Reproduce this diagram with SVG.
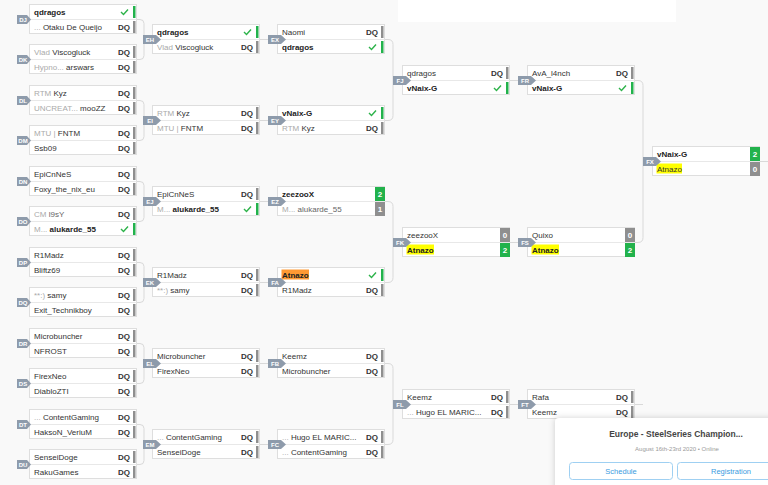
<svg xmlns="http://www.w3.org/2000/svg" width="768" height="485" viewBox="0 0 768 485">
<style>
.bx{fill:#fff;stroke:#dedede}
.dv{stroke:#e8e8e8}
.n{font-family:"Liberation Sans",Arial,sans-serif;font-size:8px;fill:#333}
.b{font-weight:bold;fill:#222}
.g{fill:#aaa}
.m{fill:#666}
.dq{font-family:"Liberation Sans",Arial,sans-serif;font-size:8px;font-weight:bold;fill:#333;text-anchor:end}
.bar{fill:#8f8f8f}
.win{fill:#22b24c}
.ck{fill:none;stroke:#2db34a;stroke-width:1.4}
.tg{fill:#8e9bab}
.tt{font-family:"Liberation Sans",Arial,sans-serif;font-size:6px;font-weight:bold;fill:#fff;text-anchor:middle}
.st{font-family:"Liberation Sans",Arial,sans-serif;font-size:8px;font-weight:bold;fill:#fff;text-anchor:middle}
.cn{fill:none;stroke:#d9d9d9;stroke-width:1}
.hy{fill:#ffff00}
.ho{fill:#ff9933}
.btn{fill:#fff;stroke:#9fd0f2;stroke-width:1}
.bt{font-family:"Liberation Sans",Arial,sans-serif;font-size:7.5px;fill:#3a9be0;text-anchor:middle}
</style>
<defs>
<filter id="sh" x="-10%" y="-20%" width="120%" height="140%"><feDropShadow dx="0" dy="0" stdDeviation="3" flood-color="#000" flood-opacity="0.18"/></filter>
<g id="box"><rect class="bx" x="0.5" y="0.5" width="107" height="29"/><line class="dv" x1="0.5" y1="15.5" x2="107.5" y2="15.5"/></g>
<path id="t1" class="tg" d="M-12,11 h10 l4,4.5 l-4,4.5 h-10 z"/>
<path id="t2" class="tg" d="M-9,11 h13 l5,4.5 l-5,4.5 h-13 z"/>
<rect id="gb1" class="bar" x="104" y="2" width="2.5" height="12"/>
<rect id="gb2" class="bar" x="104" y="17" width="2.5" height="12"/>
<rect id="wb1" class="win" x="104" y="2" width="2.5" height="12"/>
<rect id="wb2" class="win" x="104" y="17" width="2.5" height="12"/>
<path id="c1" class="ck" d="M92,8 l2.5,2.5 l4.5,-5"/>
<path id="c2" class="ck" d="M92,23 l2.5,2.5 l4.5,-5"/>
</defs>
<rect width="768" height="485" fill="#f9f9f9"/>
<rect x="398" y="0" width="278" height="22" fill="#fff"/>

<g id="connectors">
<path class="cn" d="M137,19.5 H140 Q144,19.5 144,23.5 V55.5 Q144,59.5 140,59.5 H137 M144,39.5 H152"/>
<path class="cn" d="M137,100.5 H140 Q144,100.5 144,104.5 V136.5 Q144,140.5 140,140.5 H137 M144,120.5 H152"/>
<path class="cn" d="M137,181.5 H140 Q144,181.5 144,185.5 V217.5 Q144,221.5 140,221.5 H137 M144,201.5 H152"/>
<path class="cn" d="M137,262.5 H140 Q144,262.5 144,266.5 V298.5 Q144,302.5 140,302.5 H137 M144,282.5 H152"/>
<path class="cn" d="M137,343.5 H140 Q144,343.5 144,347.5 V379.5 Q144,383.5 140,383.5 H137 M144,363.5 H152"/>
<path class="cn" d="M137,424.5 H140 Q144,424.5 144,428.5 V460.5 Q144,464.5 140,464.5 H137 M144,444.5 H152"/>
<path class="cn" d="M260,39.5 H277 M260,120.5 H277 M260,201.5 H277 M260,282.5 H277 M260,363.5 H277 M260,444.5 H277"/>
<path class="cn" d="M385,39.5 H388 Q393,39.5 393,44.5 V115.5 Q393,120.5 388,120.5 H385 M393,80.5 H402"/>
<path class="cn" d="M385,201.5 H388 Q393,201.5 393,206.5 V277.5 Q393,282.5 388,282.5 H385 M393,242.5 H402"/>
<path class="cn" d="M385,363.5 H388 Q393,363.5 393,368.5 V439.5 Q393,444.5 388,444.5 H385 M393,404.5 H402"/>
<path class="cn" d="M510,80.5 H527 M510,242.5 H527 M510,404.5 H527"/>
<path class="cn" d="M635,80.5 H638 Q643,80.5 643,85.5 V237.5 Q643,242.5 638,242.5 H635 M643,161.5 H652"/>
<path class="cn" d="M635,404.5 H643 M760,161.5 H768"/>
</g>

<!-- Column 1 -->
<g id="DJ" transform="translate(29,4)"><use href="#box"/><text class="n b" x="5" y="11">qdragos</text><use href="#c1"/><use href="#wb1"/><text class="n" x="5" y="26"><tspan class="g">...</tspan> Otaku De Queijo</text><text class="dq" x="101" y="26">DQ</text><use href="#gb2"/><use href="#t1"/><text class="tt" x="-6" y="17.7">DJ</text></g>
<g id="DK" transform="translate(29,44)"><use href="#box"/><text class="n" x="5" y="11"><tspan class="g">Vlad</tspan> Viscogluck</text><text class="dq" x="101" y="11">DQ</text><use href="#gb1"/><text class="n" x="5" y="26"><tspan class="g">Hypno...</tspan> arswars</text><text class="dq" x="101" y="26">DQ</text><use href="#gb2"/><use href="#t1"/><text class="tt" x="-6" y="17.7">DK</text></g>
<g id="DL" transform="translate(29,85)"><use href="#box"/><text class="n" x="5" y="11"><tspan class="g">RTM</tspan> Kyz</text><text class="dq" x="101" y="11">DQ</text><use href="#gb1"/><text class="n" x="5" y="26"><tspan class="g">UNCREAT...</tspan> mooZZ</text><text class="dq" x="101" y="26">DQ</text><use href="#gb2"/><use href="#t1"/><text class="tt" x="-6" y="17.7">DL</text></g>
<g id="DM" transform="translate(29,125)"><use href="#box"/><text class="n" x="5" y="11"><tspan class="g">MTU |</tspan> FNTM</text><text class="dq" x="101" y="11">DQ</text><use href="#gb1"/><text class="n" x="5" y="26">Ssb09</text><text class="dq" x="101" y="26">DQ</text><use href="#gb2"/><use href="#t1"/><text class="tt" x="-6" y="17.7">DM</text></g>
<g id="DN" transform="translate(29,166)"><use href="#box"/><text class="n" x="5" y="11">EpiCnNeS</text><text class="dq" x="101" y="11">DQ</text><use href="#gb1"/><text class="n" x="5" y="26">Foxy_the_nix_eu</text><text class="dq" x="101" y="26">DQ</text><use href="#gb2"/><use href="#t1"/><text class="tt" x="-6" y="17.7">DN</text></g>
<g id="DO" transform="translate(29,206)"><use href="#box"/><text class="n" x="5" y="11"><tspan class="g">CM</tspan> <tspan class="m">l9sY</tspan></text><text class="dq" x="101" y="11">DQ</text><use href="#gb1"/><text class="n" x="5" y="26"><tspan class="g">M...</tspan> <tspan class="b">alukarde_55</tspan></text><use href="#c2"/><use href="#wb2"/><use href="#t1"/><text class="tt" x="-6" y="17.7">DO</text></g>
<g id="DP" transform="translate(29,247)"><use href="#box"/><text class="n" x="5" y="11">R1Madz</text><text class="dq" x="101" y="11">DQ</text><use href="#gb1"/><text class="n" x="5" y="26">Bliftz69</text><text class="dq" x="101" y="26">DQ</text><use href="#gb2"/><use href="#t1"/><text class="tt" x="-6" y="17.7">DP</text></g>
<g id="DQ" transform="translate(29,287)"><use href="#box"/><text class="n" x="5" y="11"><tspan class="g">**:)</tspan> samy</text><text class="dq" x="101" y="11">DQ</text><use href="#gb1"/><text class="n" x="5" y="26">Exit_Technikboy</text><text class="dq" x="101" y="26">DQ</text><use href="#gb2"/><use href="#t1"/><text class="tt" x="-6" y="17.7">DQ</text></g>
<g id="DR" transform="translate(29,328)"><use href="#box"/><text class="n" x="5" y="11">Microbuncher</text><text class="dq" x="101" y="11">DQ</text><use href="#gb1"/><text class="n" x="5" y="26">NFROST</text><text class="dq" x="101" y="26">DQ</text><use href="#gb2"/><use href="#t1"/><text class="tt" x="-6" y="17.7">DR</text></g>
<g id="DS" transform="translate(29,368)"><use href="#box"/><text class="n" x="5" y="11">FirexNeo</text><text class="dq" x="101" y="11">DQ</text><use href="#gb1"/><text class="n" x="5" y="26">DiabloZTI</text><text class="dq" x="101" y="26">DQ</text><use href="#gb2"/><use href="#t1"/><text class="tt" x="-6" y="17.7">DS</text></g>
<g id="DT" transform="translate(29,409)"><use href="#box"/><text class="n" x="5" y="11"><tspan class="g">...</tspan> ContentGaming</text><text class="dq" x="101" y="11">DQ</text><use href="#gb1"/><text class="n" x="5" y="26">HaksoN_VeriuM</text><text class="dq" x="101" y="26">DQ</text><use href="#gb2"/><use href="#t1"/><text class="tt" x="-6" y="17.7">DT</text></g>
<g id="DU" transform="translate(29,449)"><use href="#box"/><text class="n" x="5" y="11">SenseiDoge</text><text class="dq" x="101" y="11">DQ</text><use href="#gb1"/><text class="n" x="5" y="26">RakuGames</text><text class="dq" x="101" y="26">DQ</text><use href="#gb2"/><use href="#t1"/><text class="tt" x="-6" y="17.7">DU</text></g>

<!-- Column 2 -->
<g id="EH" transform="translate(152,24)"><use href="#box"/><text class="n b" x="5" y="11">qdragos</text><use href="#c1"/><use href="#wb1"/><text class="n" x="5" y="26"><tspan class="g">Vlad</tspan> Viscogluck</text><text class="dq" x="101" y="26">DQ</text><use href="#gb2"/><use href="#t2"/><text class="tt" x="-2" y="17.7">EH</text></g>
<g id="EI" transform="translate(152,105)"><use href="#box"/><text class="n" x="5" y="11"><tspan class="g">RTM</tspan> Kyz</text><text class="dq" x="101" y="11">DQ</text><use href="#gb1"/><text class="n" x="5" y="26"><tspan class="g">MTU |</tspan> FNTM</text><text class="dq" x="101" y="26">DQ</text><use href="#gb2"/><use href="#t2"/><text class="tt" x="-2" y="17.7">EI</text></g>
<g id="EJ" transform="translate(152,186)"><use href="#box"/><text class="n" x="5" y="11">EpiCnNeS</text><text class="dq" x="101" y="11">DQ</text><use href="#gb1"/><text class="n" x="5" y="26"><tspan class="g">M...</tspan> <tspan class="b">alukarde_55</tspan></text><use href="#c2"/><use href="#wb2"/><use href="#t2"/><text class="tt" x="-2" y="17.7">EJ</text></g>
<g id="EK" transform="translate(152,267)"><use href="#box"/><text class="n" x="5" y="11">R1Madz</text><text class="dq" x="101" y="11">DQ</text><use href="#gb1"/><text class="n" x="5" y="26"><tspan class="g">**:)</tspan> samy</text><text class="dq" x="101" y="26">DQ</text><use href="#gb2"/><use href="#t2"/><text class="tt" x="-2" y="17.7">EK</text></g>
<g id="EL" transform="translate(152,348)"><use href="#box"/><text class="n" x="5" y="11">Microbuncher</text><text class="dq" x="101" y="11">DQ</text><use href="#gb1"/><text class="n" x="5" y="26">FirexNeo</text><text class="dq" x="101" y="26">DQ</text><use href="#gb2"/><use href="#t2"/><text class="tt" x="-2" y="17.7">EL</text></g>
<g id="EM" transform="translate(152,429)"><use href="#box"/><text class="n" x="5" y="11"><tspan class="g">...</tspan> ContentGaming</text><text class="dq" x="101" y="11">DQ</text><use href="#gb1"/><text class="n" x="5" y="26">SenseiDoge</text><text class="dq" x="101" y="26">DQ</text><use href="#gb2"/><use href="#t2"/><text class="tt" x="-2" y="17.7">EM</text></g>

<!-- Column 3 -->
<g id="EX" transform="translate(277,24)"><use href="#box"/><text class="n" x="5" y="11">Naomi</text><text class="dq" x="101" y="11">DQ</text><use href="#gb1"/><text class="n b" x="5" y="26">qdragos</text><use href="#c2"/><use href="#wb2"/><use href="#t2"/><text class="tt" x="-2" y="17.7">EX</text></g>
<g id="EY" transform="translate(277,105)"><use href="#box"/><text class="n b" x="5" y="11">vNaix-G</text><use href="#c1"/><use href="#wb1"/><text class="n" x="5" y="26"><tspan class="g">RTM</tspan> Kyz</text><text class="dq" x="101" y="26">DQ</text><use href="#gb2"/><use href="#t2"/><text class="tt" x="-2" y="17.7">EY</text></g>
<g id="EZ" transform="translate(277,186)"><use href="#box"/><text class="n b" x="5" y="11">zeezooX</text><rect class="win" x="98" y="1" width="10" height="14"/><text class="st" x="103" y="11">2</text><text class="n" x="5" y="26"><tspan class="g">M...</tspan> <tspan class="m">alukarde_55</tspan></text><rect class="bar" x="98" y="16" width="10" height="14"/><text class="st" x="103" y="26">1</text><use href="#t2"/><text class="tt" x="-2" y="17.7">EZ</text></g>
<g id="FA" transform="translate(277,267)"><use href="#box"/><rect class="ho" x="4.5" y="2.5" width="27.5" height="10"/><text class="n b" x="5" y="11">Atnazo</text><use href="#c1"/><use href="#wb1"/><text class="n" x="5" y="26">R1Madz</text><text class="dq" x="101" y="26">DQ</text><use href="#gb2"/><use href="#t2"/><text class="tt" x="-2" y="17.7">FA</text></g>
<g id="FB" transform="translate(277,348)"><use href="#box"/><text class="n" x="5" y="11">Keemz</text><text class="dq" x="101" y="11">DQ</text><use href="#gb1"/><text class="n" x="5" y="26">Microbuncher</text><text class="dq" x="101" y="26">DQ</text><use href="#gb2"/><use href="#t2"/><text class="tt" x="-2" y="17.7">FB</text></g>
<g id="FC" transform="translate(277,429)"><use href="#box"/><text class="n" x="5" y="11"><tspan class="g">...</tspan> Hugo EL MARIC...</text><text class="dq" x="101" y="11">DQ</text><use href="#gb1"/><text class="n" x="5" y="26"><tspan class="g">...</tspan> ContentGaming</text><text class="dq" x="101" y="26">DQ</text><use href="#gb2"/><use href="#t2"/><text class="tt" x="-2" y="17.7">FC</text></g>

<!-- Column 4 -->
<g id="FJ" transform="translate(402,65)"><use href="#box"/><text class="n" x="5" y="11">qdragos</text><text class="dq" x="101" y="11">DQ</text><use href="#gb1"/><text class="n b" x="5" y="26">vNaix-G</text><use href="#c2"/><use href="#wb2"/><use href="#t2"/><text class="tt" x="-2" y="17.7">FJ</text></g>
<g id="FK" transform="translate(402,227)"><use href="#box"/><text class="n" x="5" y="11">zeezooX</text><rect class="bar" x="98" y="1" width="10" height="14"/><text class="st" x="103" y="11">0</text><rect class="hy" x="4.5" y="17.5" width="27.5" height="10"/><text class="n b" x="5" y="26">Atnazo</text><rect class="win" x="98" y="16" width="10" height="14"/><text class="st" x="103" y="26">2</text><use href="#t2"/><text class="tt" x="-2" y="17.7">FK</text></g>
<g id="FL" transform="translate(402,389)"><use href="#box"/><text class="n" x="5" y="11">Keemz</text><text class="dq" x="101" y="11">DQ</text><use href="#gb1"/><text class="n" x="5" y="26"><tspan class="g">...</tspan> Hugo EL MARIC...</text><text class="dq" x="101" y="26">DQ</text><use href="#gb2"/><use href="#t2"/><text class="tt" x="-2" y="17.7">FL</text></g>

<!-- Column 5 -->
<g id="FR" transform="translate(527,65)"><use href="#box"/><text class="n" x="5" y="11">AvA_l4nch</text><text class="dq" x="101" y="11">DQ</text><use href="#gb1"/><text class="n b" x="5" y="26">vNaix-G</text><use href="#c2"/><use href="#wb2"/><use href="#t2"/><text class="tt" x="-2" y="17.7">FR</text></g>
<g id="FS" transform="translate(527,227)"><use href="#box"/><text class="n" x="5" y="11">Quixo</text><rect class="bar" x="98" y="1" width="10" height="14"/><text class="st" x="103" y="11">0</text><rect class="hy" x="4.5" y="17.5" width="27.5" height="10"/><text class="n b" x="5" y="26">Atnazo</text><rect class="win" x="98" y="16" width="10" height="14"/><text class="st" x="103" y="26">2</text><use href="#t2"/><text class="tt" x="-2" y="17.7">FS</text></g>
<g id="FT" transform="translate(527,389)"><use href="#box"/><text class="n" x="5" y="11">Rafa</text><text class="dq" x="101" y="11">DQ</text><use href="#gb1"/><text class="n" x="5" y="26">Keemz</text><text class="dq" x="101" y="26">DQ</text><use href="#gb2"/><use href="#t2"/><text class="tt" x="-2" y="17.7">FT</text></g>

<!-- Column 6 -->
<g id="FX" transform="translate(652,146)"><use href="#box"/><text class="n b" x="5" y="11">vNaix-G</text><rect class="win" x="98" y="1" width="10" height="14"/><text class="st" x="103" y="11">2</text><rect class="hy" x="4.5" y="17.5" width="25.5" height="10"/><text class="n" x="5" y="26">Atnazo</text><rect class="bar" x="98" y="16" width="10" height="14"/><text class="st" x="103" y="26">0</text><use href="#t2"/><text class="tt" x="-2" y="17.7">FX</text></g>

<!-- Event card -->
<g id="card">
<rect x="555" y="418" width="225" height="80" rx="4" fill="#fff" filter="url(#sh)"/>
<text x="676" y="437" font-family="Liberation Sans, Arial, sans-serif" font-size="8.5" font-weight="bold" fill="#444" text-anchor="middle">Europe - SteelSeries Champion...</text>
<text x="677" y="451" font-family="Liberation Sans, Arial, sans-serif" font-size="6" fill="#9a9a9a" text-anchor="middle">August 16th-23rd 2020 • Online</text>
<rect class="btn" x="569.5" y="462.5" width="103" height="17" rx="3"/>
<text class="bt" x="621" y="473.5">Schedule</text>
<rect class="btn" x="677.5" y="462.5" width="103" height="17" rx="3"/>
<text class="bt" x="731" y="473.5">Registration</text>
</g>
</svg>
